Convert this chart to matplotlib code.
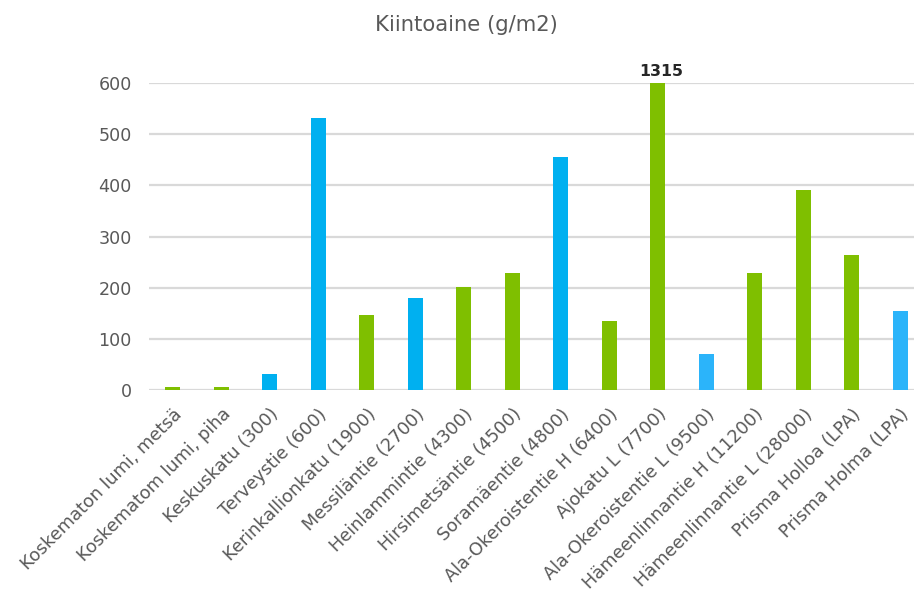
import matplotlib
matplotlib.use("Agg")
import matplotlib.pyplot as plt
import numpy as np

categories = [
    "Koskematon lumi, metsä", "Koskematom lumi, piha", "Keskuskatu (300)",
    "Terveystie (600)", "Kerinkallionkatu (1900)", "Messiläntie (2700)",
    "Heinlammintie (4300)", "Hirsimetsäntie (4500)", "Soramäentie (4800)",
    "Ala-Okeroistentie H (6400)", "Ajokatu L (7700)", "Ala-Okeroistentie L (9500)",
    "Hämeenlinnantie H (11200)", "Hämeenlinnantie L (28000)",
    "Prisma Holloa (LPA)", "Prisma Holma (LPA)",
]
values = [5, 5, 31, 532, 146, 180, 202, 228, 456, 135, 1315, 70, 228, 391, 264, 154]
colors = ["#7FBF00", "#7FBF00", "#00B0F0", "#00B0F0", "#7FBF00", "#00B0F0",
          "#7FBF00", "#7FBF00", "#00B0F0", "#7FBF00", "#7FBF00", "#2BB4FA",
          "#7FBF00", "#7FBF00", "#7FBF00", "#2BB4FA"]
y_ticks = [0, 100, 200, 300, 400, 500, 600]
labelled = {10: "1315"}

W, H = 914, 593
fig = plt.figure(figsize=(W / 100, H / 100), dpi=100)
left, right, bottom, top = 148.5, 924.5, 390, 83
ax = fig.add_axes([left / W, (H - bottom) / H, (right - left) / W, (bottom - top) / H])

x = np.arange(len(categories))
ax.bar(x, values, width=0.31, color=colors, zorder=3)
ax.set_xlim(-0.5, len(categories) - 0.5)
ax.set_ylim(0, 600)

ax.set_yticks(y_ticks)
ax.yaxis.grid(True, color="#d9d9d9", linewidth=1.6, zorder=0)
ax.set_axisbelow(True)
for s in ax.spines.values():
    s.set_visible(False)
ax.tick_params(axis="both", length=0, colors="#595959")
ax.tick_params(axis="y", pad=12, labelsize=12.6)
ax.set_xticks(x)
ax.set_xticklabels(categories, rotation=45, ha="right", rotation_mode="anchor",
                   fontsize=12.8, color="#595959")
ax.tick_params(axis="x", pad=11)

ymax = ax.get_ylim()[1]
for i, txt in labelled.items():
    ax.text(x[i] + 0.08, min(values[i], ymax) + 8, txt, ha="center", va="bottom",
            fontsize=11.3, fontweight="bold", color="#262626", clip_on=False)

fig.text(466 / W, 1 - 25 / H, "Kiintoaine (g/m2)", ha="center", va="center",
         fontsize=15.2, color="#595959")

fig.savefig("out.png", dpi=100)
